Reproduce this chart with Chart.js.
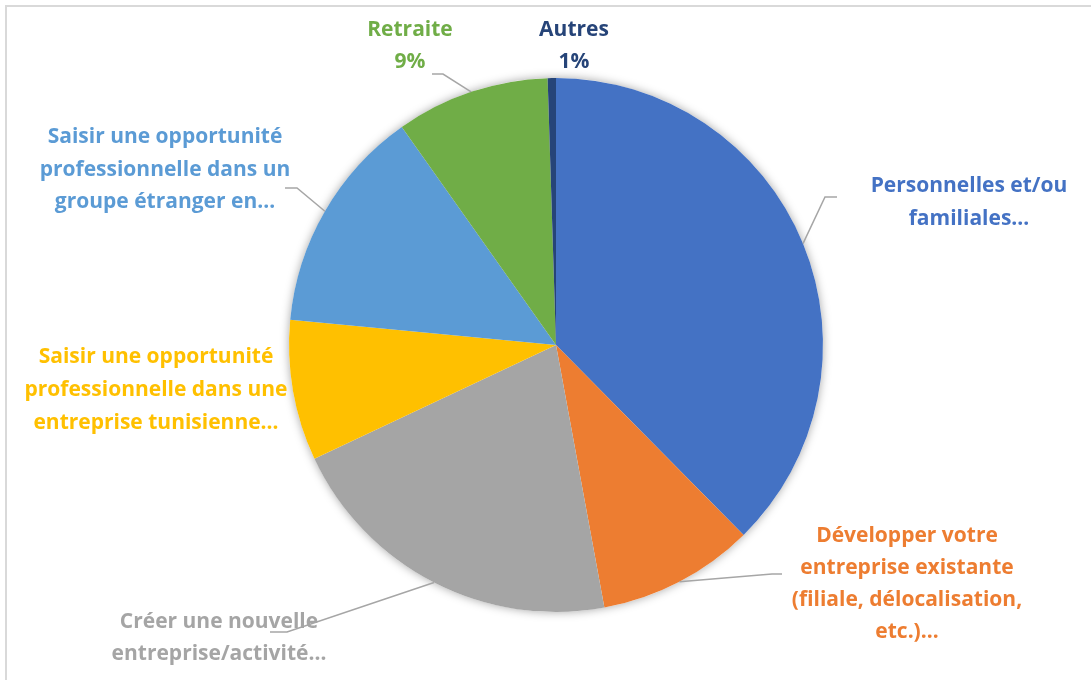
<!DOCTYPE html>
<html lang="fr">
<head>
  <meta charset="UTF-8" />
  <title>Motifs</title>
  <script src="https://cdn.jsdelivr.net/npm/chart.js"></script>
  <style>
    html, body {
      margin: 0;
      padding: 0;
      background: #ffffff;
      overflow: hidden;
    }
    #wrap {
      width: 1091px;
      height: 680px;
    }
  </style>
</head>
<body>
  <div id="wrap">
    <canvas id="pieChart" width="1091" height="680"></canvas>
  </div>

  <script>
    // categories (as shown, already wrapped)
    const categories = [
      ['Personnelles et/ou', 'familiales…'],
      ['Développer votre', 'entreprise existante', '(filiale, délocalisation,', 'etc.)…'],
      ['Créer une nouvelle', 'entreprise/activité…'],
      ['Saisir une opportunité', 'professionnelle dans une', 'entreprise tunisienne…'],
      ['Saisir une opportunité', 'professionnelle dans un', 'groupe étranger en…'],
      ['Retraite'],
      ['Autres']
    ];
    // share of answers, %
    const values = [37.6, 9.5, 20.9, 8.5, 13.7, 9.3, 0.5];
    const colors = ['#4472C4', '#ED7D31', '#A5A5A5', '#FFC000', '#5B9BD5', '#70AD47', '#264478'];
    const showPct = [false, false, false, false, false, true, true];

    // where Excel put each label (first baseline) and its leader elbow
    const labelPos = [
      { x: 969, y: 192, lh: 33, leader: [[825, 197], [837, 197]] },
      { x: 907, y: 542, lh: 32, leader: [[772, 574], [782, 574]] },
      { x: 219, y: 628, lh: 32, leader: [[287, 632], [270, 632]] },
      { x: 156, y: 363, lh: 33, leader: null },
      { x: 165, y: 143, lh: 32.5, leader: [[297, 188], [285, 188]] },
      { x: 410, y: 36, lh: 32, leader: [[443, 74], [432, 74]] },
      { x: 574, y: 36, lh: 32, leader: null }
    ];

    const total = values.reduce((a, b) => a + b, 0);

    const decorPlugin = {
      id: 'decor',
      beforeDraw(chart) {
        const ctx = chart.ctx;
        ctx.save();
        ctx.fillStyle = '#ffffff';
        ctx.fillRect(0, 0, chart.width, chart.height);
        ctx.strokeStyle = '#d9d9d9';
        ctx.lineWidth = 2;
        ctx.strokeRect(6, 6, chart.width + 20, chart.height + 20);
        ctx.restore();
      },
      beforeDatasetsDraw(chart) {
        // soft shadow under the whole pie
        const arc = chart.getDatasetMeta(0).data[0];
        const ctx = chart.ctx;
        ctx.save();
        ctx.shadowColor = 'rgba(0, 0, 0, 0.35)';
        ctx.shadowBlur = 10;
        ctx.fillStyle = '#ffffff';
        ctx.beginPath();
        ctx.arc(arc.x, arc.y, arc.outerRadius, 0, Math.PI * 2);
        ctx.fill();
        ctx.restore();
      },
      afterDatasetsDraw(chart) {
        const ctx = chart.ctx;
        const arcs = chart.getDatasetMeta(0).data;
        ctx.save();
        arcs.forEach((arc, i) => {
          const pos = labelPos[i];
          if (pos.leader) {
            const mid = (arc.startAngle + arc.endAngle) / 2;
            const px = arc.x + Math.cos(mid) * arc.outerRadius;
            const py = arc.y + Math.sin(mid) * arc.outerRadius;
            ctx.strokeStyle = '#a6a6a6';
            ctx.lineWidth = 1.5;
            ctx.beginPath();
            ctx.moveTo(px, py);
            ctx.lineTo(pos.leader[0][0], pos.leader[0][1]);
            ctx.lineTo(pos.leader[1][0], pos.leader[1][1]);
            ctx.stroke();
          }
          const lines = categories[i].slice();
          if (showPct[i]) lines.push(Math.round(values[i] / total * 100) + '%');
          ctx.fillStyle = colors[i];
          ctx.font = 'bold 21px "Open Sans", Lato, sans-serif';
          ctx.textAlign = 'center';
          ctx.textBaseline = 'alphabetic';
          lines.forEach((t, k) => {
            ctx.fillText(t, pos.x, pos.y + k * pos.lh);
          });
        });
        ctx.restore();
      }
    };

    const ctx = document.getElementById('pieChart').getContext('2d');
    new Chart(ctx, {
      type: 'pie',
      data: {
        labels: categories,
        datasets: [{
          data: values,
          backgroundColor: colors,
          borderWidth: 0
        }]
      },
      options: {
        responsive: false,
        animation: false,
        layout: {
          padding: { top: 78, bottom: 68, left: 289, right: 268 }
        },
        plugins: {
          legend: { display: false },
          tooltip: { enabled: false }
        }
      },
      plugins: [decorPlugin]
    });
  </script>
</body>
</html>
